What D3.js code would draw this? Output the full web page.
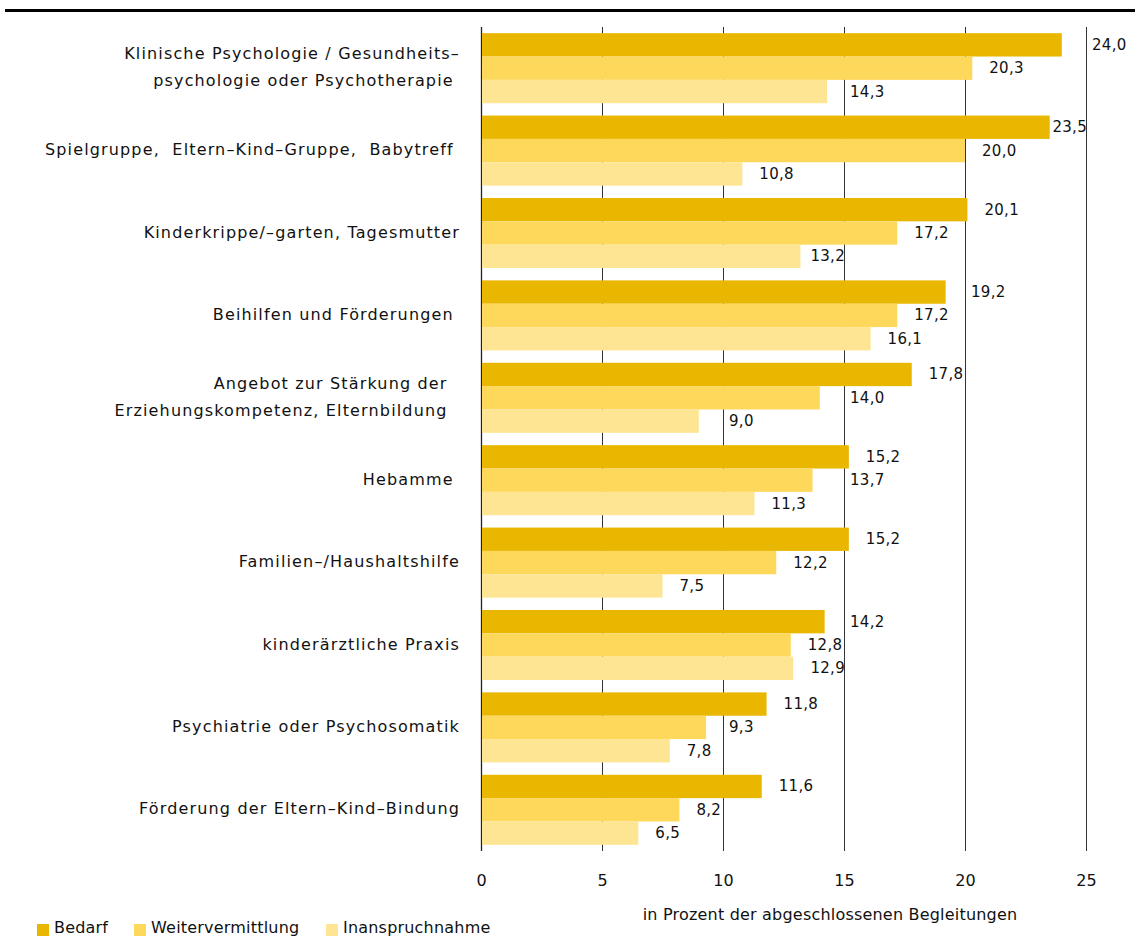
<!DOCTYPE html>
<html>
<head>
<meta charset="utf-8">
<script src="https://cdn.jsdelivr.net/npm/d3@7"></script>
<style>
  html, body { margin: 0; padding: 0; background: #fff; }
  svg { display: block; }
  text { font-family: "DejaVu Sans", sans-serif; fill: #111; white-space: pre; }
</style>
</head>
<body>
<svg id="chart" width="1135" height="937"></svg>
<script>
// ---- data ----
const categories = [
  ["Klinische Psychologie / Gesundheits–", "psychologie oder Psychotherapie "],
  ["Spielgruppe,  Eltern–Kind–Gruppe,  Babytreff "],
  ["Kinderkrippe/–garten, Tagesmutter"],
  ["Beihilfen und Förderungen "],
  ["Angebot zur Stärkung der  ", "Erziehungskompetenz, Elternbildung  "],
  ["Hebamme "],
  ["Familien–/Haushaltshilfe"],
  ["kinderärztliche Praxis"],
  ["Psychiatrie oder Psychosomatik"],
  ["Förderung der Eltern–Kind–Bindung"]
];
const seriesNames = ["Bedarf", "Weitervermittlung", "Inanspruchnahme"];
const bedarf            = [24.0, 23.5, 20.1, 19.2, 17.8, 15.2, 15.2, 14.2, 11.8, 11.6];
const weitervermittlung = [20.3, 20.0, 17.2, 17.2, 14.0, 13.7, 12.2, 12.8, 9.3, 8.2];
const inanspruchnahme   = [14.3, 10.8, 13.2, 16.1, 9.0, 11.3, 7.5, 12.9, 7.8, 6.5];
const xTicks = [0, 5, 10, 15, 20, 25];
const axisTitle = "in Prozent der abgeschlossenen Begleitungen";
const colors = ["#E9B600", "#FED85A", "#FEE593"];

const seriesValues = [bedarf, weitervermittlung, inanspruchnahme];

// ---- layout ----
const svg = d3.select("#chart");
const x = d3.scaleLinear().domain([0, 25]).range([481, 1086]);
const y = d3.scaleBand().domain(d3.range(categories.length))
  .range([27, 851]).paddingInner(0.15).paddingOuter(0.075);
const ySub = d3.scaleBand().domain(d3.range(3)).range([0, y.bandwidth()]);

// top rule
svg.append("line").attr("x1", 5).attr("x2", 1135).attr("y1", 10.5).attr("y2", 10.5)
  .attr("stroke", "#000").attr("stroke-width", 3);

// gridlines
svg.append("g").selectAll("line").data(xTicks).join("line")
  .attr("x1", d => x(d) + 0.5).attr("x2", d => x(d) + 0.5)
  .attr("y1", 27).attr("y2", 851)
  .attr("stroke", d => d === 0 ? "#222" : "#333").attr("stroke-width", d => d === 0 ? 1.3 : 1);

// bars
const groups = svg.append("g").selectAll("g").data(categories).join("g")
  .attr("transform", (d, i) => `translate(0,${y(i)})`);

groups.each(function(cat, i) {
  const g = d3.select(this);
  seriesValues.forEach((vals, s) => {
    g.append("rect")
      .attr("x", x(0) + 1)
      .attr("y", ySub(s))
      .attr("width", x(vals[i]) - x(0) - 1)
      .attr("height", ySub.bandwidth())
      .attr("fill", colors[s]);
  });
});

// value labels
const fmt = v => d3.format(".1f")(v).replace(".", ",");
groups.each(function(cat, i) {
  const g = d3.select(this);
  seriesValues.forEach((vals, s) => {
    const end = x(vals[i]);
    const t = g.append("text")
      .attr("y", ySub(s) + ySub.bandwidth() / 2 + 5)
      .attr("font-size", 15)
      .attr("letter-spacing", 0.3)
      .text(fmt(vals[i]));
    const w = t.node().getComputedTextLength();
    let pos = end + 17;
    for (const tk of xTicks) {
      const gx = x(tk);
      if (pos < gx + 1 && pos + w > gx - 1) {
        const left = gx - 1 - w;
        pos = left >= end ? left + 2 : gx + 6;
      }
    }
    t.attr("x", pos);
  });
});

// category labels
const lineGap = 27;
svg.append("g").selectAll("text").data(categories).join("text")
  .attr("text-anchor", "end")
  .attr("font-size", 16)
  .attr("letter-spacing", 1.15)
  .each(function(lines, i) {
    const cy = y(i) + y.bandwidth() / 2 + 4.5;
    const n = lines.length;
    d3.select(this).selectAll("tspan").data(lines).join("tspan")
      .attr("x", 460)
      .attr("y", (d, k) => cy + (k - (n - 1) / 2) * lineGap)
      .text(d => d);
  });

// x axis tick labels
svg.append("g").selectAll("text").data(xTicks).join("text")
  .attr("x", d => x(d) + 0.5).attr("y", 886)
  .attr("text-anchor", "middle").attr("font-size", 16)
  .text(d => d);

// axis title
svg.append("text").attr("x", 830).attr("y", 920)
  .attr("text-anchor", "middle").attr("font-size", 16)
  .attr("letter-spacing", 0.2)
  .text(axisTitle);

// legend
const legendX = [37, 134, 326];
const leg = svg.append("g").selectAll("g").data(seriesNames).join("g")
  .attr("transform", (d, i) => `translate(${legendX[i]},0)`);
leg.append("rect").attr("x", 0).attr("y", 924).attr("width", 12).attr("height", 12)
  .attr("fill", (d, i) => colors[i]);
leg.append("text").attr("x", 17).attr("y", 933).attr("font-size", 16)
  .attr("letter-spacing", 0.2).text(d => d);
</script>
</body>
</html>
